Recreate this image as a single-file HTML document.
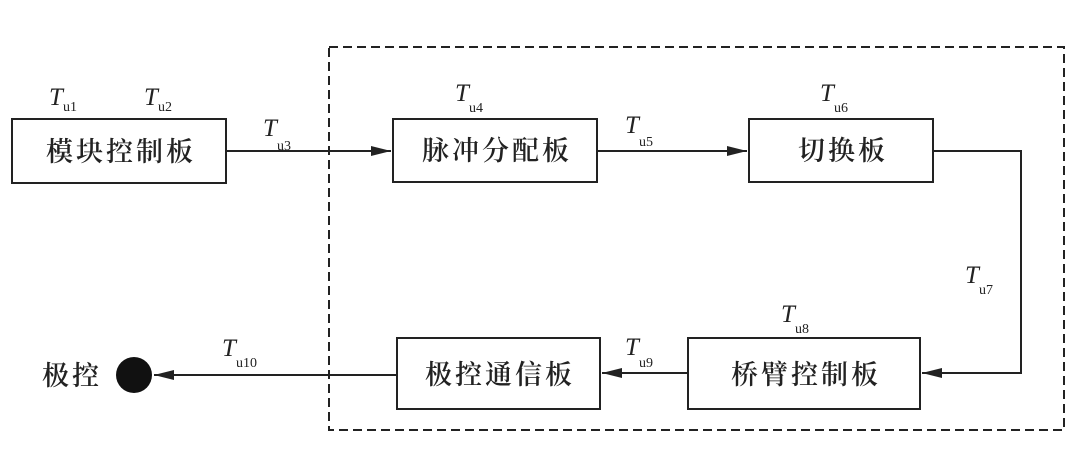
<!DOCTYPE html>
<html><head><meta charset="utf-8"><style>
body{margin:0;background:#fff}
svg text{font-family:"Liberation Serif","Noto Serif CJK SC",serif;fill:#222}
.c{font-size:27px;text-anchor:middle;letter-spacing:3px;font-weight:600}
.t{font-size:25px;font-style:italic}
.s{font-size:14px}
</style></head><body>
<svg width="1080" height="445" xmlns="http://www.w3.org/2000/svg">
<defs><marker id="a" markerWidth="20" markerHeight="10" refX="20" refY="5" orient="auto" markerUnits="userSpaceOnUse"><path d="M0,0 L20,5 L0,10 Z" fill="#222"/></marker></defs>
<g stroke="#222" fill="none" stroke-width="2">
<rect x="329" y="47" width="735" height="383" stroke-dasharray="9,5"/>
<rect x="12" y="119" width="214" height="64"/>
<rect x="393" y="119" width="204" height="63"/>
<rect x="749" y="119" width="184" height="63"/>
<rect x="688" y="338" width="232" height="71"/>
<rect x="397" y="338" width="203" height="71"/>
<line x1="226" y1="151" x2="391" y2="151" marker-end="url(#a)"/>
<line x1="597" y1="151" x2="747" y2="151" marker-end="url(#a)"/>
<polyline points="933,151 1021,151 1021,373 922,373" marker-end="url(#a)"/>
<line x1="688" y1="373" x2="602" y2="373" marker-end="url(#a)"/>
<line x1="397" y1="375" x2="154" y2="375" marker-end="url(#a)"/>
</g>
<circle cx="134" cy="375" r="18" fill="#111"/>
<text class="c" x="121" y="161">模块控制板</text>
<text class="c" x="497" y="160">脉冲分配板</text>
<text class="c" x="843" y="160">切换板</text>
<text class="c" x="806" y="384">桥臂控制板</text>
<text class="c" x="500" y="384">极控通信板</text>
<text class="c" x="72" y="385">极控</text>
<text class="t" x="49" y="105">T</text><text class="s" x="63" y="111">u1</text>
<text class="t" x="144" y="105">T</text><text class="s" x="158" y="111">u2</text>
<text class="t" x="263" y="136">T</text><text class="s" x="277" y="150">u3</text>
<text class="t" x="455" y="101">T</text><text class="s" x="469" y="112">u4</text>
<text class="t" x="625" y="133">T</text><text class="s" x="639" y="146">u5</text>
<text class="t" x="820" y="101">T</text><text class="s" x="834" y="112">u6</text>
<text class="t" x="965" y="283">T</text><text class="s" x="979" y="294">u7</text>
<text class="t" x="781" y="322">T</text><text class="s" x="795" y="333">u8</text>
<text class="t" x="625" y="355">T</text><text class="s" x="639" y="367">u9</text>
<text class="t" x="222" y="356">T</text><text class="s" x="236" y="367">u10</text>
</svg>
</body></html>
